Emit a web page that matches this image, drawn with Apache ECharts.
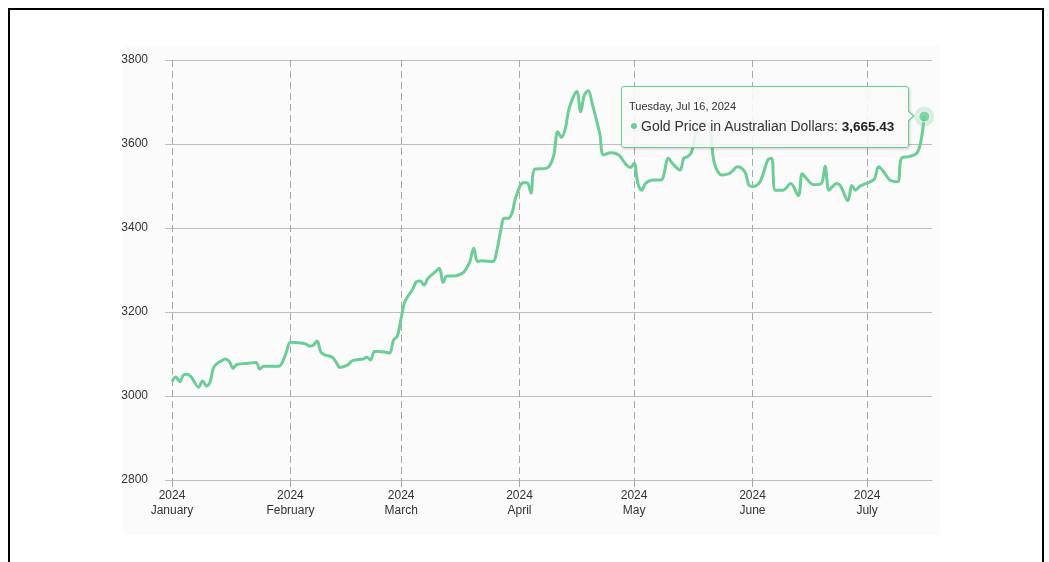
<!DOCTYPE html>
<html>
<head>
<meta charset="utf-8">
<title>Gold Price in Australian Dollars</title>
<script src="https://cdn.jsdelivr.net/npm/echarts@6/dist/echarts.min.js"></script>
<style>
  html, body { margin: 0; padding: 0; background: #ffffff; }
  #frame {
    position: absolute; left: 8px; top: 8px; width: 1036px; height: 600px;
    border: 2px solid #000; box-sizing: border-box; pointer-events: none;
  }
  #panel {
    position: absolute; left: 122px; top: 45px; width: 818px; height: 490px;
    background: #fbfbfb;
  }
  #chart { position: absolute; left: 0; top: 0; width: 1049px; height: 562px; }
</style>
</head>
<body>
<div id="frame"></div>
<div id="panel"></div>
<div id="chart"></div>
<script>
// Daily gold price in AUD, 2024
const dates = [
  '2024-01-01','2024-01-02','2024-01-03','2024-01-04','2024-01-05','2024-01-06','2024-01-08','2024-01-09',
  '2024-01-10','2024-01-11','2024-01-12','2024-01-14','2024-01-15','2024-01-16','2024-01-17','2024-01-18',
  '2024-01-21','2024-01-23','2024-01-24','2024-01-25','2024-01-27','2024-01-29','2024-01-30','2024-01-31',
  '2024-02-01','2024-02-03','2024-02-05','2024-02-06','2024-02-07','2024-02-08','2024-02-09','2024-02-10',
  '2024-02-12','2024-02-13','2024-02-14','2024-02-16','2024-02-17','2024-02-18','2024-02-20','2024-02-21',
  '2024-02-22','2024-02-23','2024-02-24','2024-02-26','2024-02-27','2024-02-28','2024-02-29',
  '2024-03-01','2024-03-02','2024-03-04','2024-03-05','2024-03-06','2024-03-07','2024-03-08','2024-03-10',
  '2024-03-11','2024-03-12','2024-03-13','2024-03-15','2024-03-17','2024-03-18','2024-03-19','2024-03-20',
  '2024-03-21','2024-03-22','2024-03-25','2024-03-26','2024-03-27','2024-03-28','2024-03-29','2024-03-30',
  '2024-03-31',
  '2024-04-02','2024-04-03','2024-04-04','2024-04-05','2024-04-08','2024-04-09','2024-04-10','2024-04-11',
  '2024-04-12','2024-04-13','2024-04-14','2024-04-16','2024-04-17','2024-04-18','2024-04-19','2024-04-20',
  '2024-04-22','2024-04-23','2024-04-25','2024-04-27','2024-04-28','2024-04-29','2024-04-30',
  '2024-05-01','2024-05-02','2024-05-03','2024-05-04','2024-05-06','2024-05-08','2024-05-10','2024-05-11',
  '2024-05-13','2024-05-14','2024-05-15','2024-05-16','2024-05-17','2024-05-18','2024-05-19','2024-05-20',
  '2024-05-21','2024-05-22','2024-05-24','2024-05-26','2024-05-27','2024-05-28','2024-05-30','2024-05-31',
  '2024-06-01','2024-06-03','2024-06-05','2024-06-06','2024-06-07','2024-06-09','2024-06-11','2024-06-13',
  '2024-06-14','2024-06-15','2024-06-17','2024-06-19','2024-06-20','2024-06-21','2024-06-22','2024-06-23',
  '2024-06-24','2024-06-26','2024-06-27','2024-06-28','2024-06-29','2024-06-30',
  '2024-07-02','2024-07-03','2024-07-04','2024-07-05','2024-07-07','2024-07-09','2024-07-10','2024-07-12',
  '2024-07-14','2024-07-15','2024-07-16'
];

const prices = [
  3034, 3045, 3034, 3050, 3052, 3046, 3021, 3036,
  3024, 3034, 3070, 3084, 3088, 3082, 3066, 3075,
  3078, 3080, 3064, 3071, 3071, 3071, 3082, 3106,
  3128, 3127, 3124, 3119, 3121, 3131, 3104, 3098,
  3092, 3080, 3068, 3074, 3083, 3086, 3088, 3092,
  3086, 3106, 3106, 3104, 3102, 3133, 3143,
  3185, 3225, 3254, 3272, 3274, 3264, 3280, 3296,
  3304, 3270, 3286, 3286, 3292, 3302, 3320, 3352,
  3320, 3322, 3320, 3344, 3390, 3423, 3423, 3435,
  3472,
  3508, 3508, 3483, 3540, 3542, 3550, 3574, 3629,
  3616, 3637, 3685, 3725, 3677, 3717, 3727, 3697,
  3625, 3574, 3579, 3574, 3562, 3550, 3544,
  3554, 3505, 3490, 3506, 3514, 3514, 3566, 3554,
  3538, 3566, 3570, 3580, 3620, 3645, 3650, 3648,
  3630, 3555, 3526, 3530, 3538, 3546, 3534, 3503,
  3499, 3511, 3562, 3566, 3490, 3490, 3506, 3477,
  3529, 3519, 3503, 3506, 3547, 3490, 3499, 3506,
  3501, 3465, 3501, 3490, 3499, 3503,
  3511, 3518, 3546, 3538, 3514, 3510, 3566, 3570,
  3578, 3602, 3665.43
];

const monthNames = ['January','February','March','April','May','June','July','August','September','October','November','December'];
const dayNames = ['Sunday','Monday','Tuesday','Wednesday','Thursday','Friday','Saturday'];
const shortMonths = ['Jan','Feb','Mar','Apr','May','Jun','Jul','Aug','Sep','Oct','Nov','Dec'];
const seriesName = 'Gold Price in Australian Dollars';
const axisEnd = '2024-07-18';

const GREEN = '#6ccd96';
const lastIndex = dates.length - 1;

function fmtNumber(v) {
  return v.toLocaleString('en-US', { minimumFractionDigits: 2, maximumFractionDigits: 2 });
}

const chart = echarts.init(document.getElementById('chart'), null, { renderer: 'canvas' });

chart.setOption({
  animation: false,
  backgroundColor: 'transparent',
  grid: { left: 172, right: 117, top: 60, bottom: 82, containLabel: false },
  xAxis: {
    type: 'time',
    min: dates[0],
    max: axisEnd,
    minInterval: 28 * 86400000,
    maxInterval: 31 * 86400000,
    axisLine: { show: true, lineStyle: { color: '#bdbdbd', width: 1 } },
    axisTick: {
      show: true, length: 10,
      lineStyle: { color: '#a8a8a8', type: [7, 4], width: 1 }
    },
    minorTick: { show: false },
    splitLine: {
      show: true, showMaxLine: false,
      lineStyle: { color: '#a8a8a8', type: [7, 4], width: 1 }
    },
    axisLabel: {
      margin: 8,
      color: '#333',
      fontFamily: 'Liberation Sans, Arial, sans-serif',
      fontSize: 12,
      lineHeight: 15,
      hideOverlap: false,
      formatter: function (value) {
        const d = new Date(value);
        if (d.getDate() !== 1 || d.getHours() !== 0) return '';
        return d.getFullYear() + '\n' + monthNames[d.getMonth()];
      }
    }
  },
  yAxis: {
    type: 'value',
    min: 2800,
    max: 3800,
    interval: 200,
    axisLine: { show: false },
    axisTick: { show: true, length: 7, lineStyle: { color: '#bdbdbd', width: 1 } },
    splitLine: { show: true, lineStyle: { color: '#bdbdbd', width: 1 } },
    axisLabel: {
      margin: 24,
      color: '#333',
      fontFamily: 'Liberation Sans, Arial, sans-serif',
      fontSize: 12,
      formatter: function (v) { return String(v); }
    }
  },
  tooltip: {
    trigger: 'item',
    triggerOn: 'none',
    alwaysShowContent: true,
    transitionDuration: 0,
    position: [621, 86],
    backgroundColor: 'rgba(248,248,248,0.88)',
    borderColor: GREEN,
    borderWidth: 1,
    padding: [12, 8, 11, 7],
    extraCssText: 'width:288px;height:62px;box-sizing:border-box;border-radius:3px;box-shadow:1px 1px 3px rgba(0,0,0,0.18);overflow:visible;',
    formatter: function (p) {
      const d = new Date(p.value[0]);
      const head = dayNames[d.getDay()] + ', ' + shortMonths[d.getMonth()] + ' ' + d.getDate() + ', ' + d.getFullYear();
      return '<div style="position:relative;font-family:Liberation Sans,Arial,sans-serif;color:#333;">' +
        '<div style="font-size:11px;line-height:14px;">' + head + '</div>' +
        '<div style="font-size:14px;line-height:18px;margin-top:4px;white-space:nowrap;">' +
        '<span style="display:inline-block;width:6px;height:6px;border-radius:3px;background:' + GREEN + ';margin:0 4px 2px 2px;vertical-align:middle;"></span>' +
        seriesName + ': <b style="color:#222;font-size:13.5px;">' + fmtNumber(p.value[1]) + '</b></div>' +
        '<div style="position:absolute;right:-15px;top:11px;width:0;height:0;border-top:6px solid transparent;border-bottom:6px solid transparent;border-left:7px solid ' + GREEN + ';"></div>' +
        '<div style="position:absolute;right:-13px;top:12px;width:0;height:0;border-top:5px solid transparent;border-bottom:5px solid transparent;border-left:6px solid rgb(248,248,248);"></div>' +
        '</div>';
    }
  },
  series: [
    {
      name: seriesName,
      type: 'line',
      data: dates.map((d, i) => [d, prices[i]]),
      smooth: 0.35,
      symbol: 'none',
      lineStyle: { color: GREEN, width: 3 },
      itemStyle: { color: GREEN },
      silent: true,
      z: 2
    },
    {
      name: seriesName,
      type: 'scatter',
      data: [[dates[lastIndex], prices[lastIndex]]],
      symbolSize: 20,
      itemStyle: { color: GREEN, opacity: 0.25 },
      z: 3
    },
    {
      name: seriesName,
      type: 'scatter',
      data: [[dates[lastIndex], prices[lastIndex]]],
      symbolSize: 11,
      itemStyle: { color: GREEN, borderColor: '#ffffff', borderWidth: 1 },
      z: 4
    }
  ]
});

chart.dispatchAction({ type: 'showTip', seriesIndex: 2, dataIndex: 0 });
</script>
</body>
</html>
